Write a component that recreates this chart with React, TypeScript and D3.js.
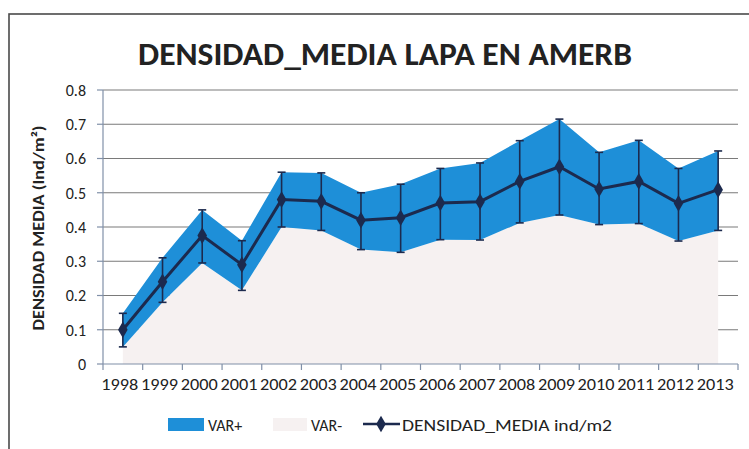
import React from 'react';
import * as d3 from 'd3';

const years = ['1998','1999','2000','2001','2002','2003','2004','2005','2006','2007','2008','2009','2010','2011','2012','2013'];
const media = [0.10,0.24,0.375,0.29,0.48,0.475,0.42,0.427,0.47,0.474,0.533,0.576,0.511,0.533,0.469,0.509];
const varMinus = [0.05,0.18,0.295,0.215,0.40,0.39,0.334,0.326,0.363,0.362,0.412,0.435,0.407,0.41,0.359,0.39];
const varPlus = [0.098,0.13,0.155,0.145,0.16,0.168,0.166,0.199,0.208,0.225,0.24,0.28,0.211,0.243,0.212,0.232];
const yTicks = [0,0.1,0.2,0.3,0.4,0.5,0.6,0.7,0.8];

const W = 749, H = 449;
const FONT = 'Carlito, Lato, "Open Sans", sans-serif';
const BLUE = '#1E8FD8';
const LIGHT = '#F6F1F1';
const NAVY = '#1C2A4E';

export default function App() {
  const x = d3.scaleBand<string>().domain(years).range([103, 738]);
  const y = d3.scaleLinear().domain([0, 0.8]).range([364, 90]);
  const cx = (yr: string) => (x(yr) as number) + x.bandwidth() / 2;

  const rows = years.map((yr, i) => ({ year: yr, varMinus: varMinus[i], varPlus: varPlus[i] }));
  const stacked = d3.stack<any>().keys(['varMinus', 'varPlus'])(rows);
  const area = d3.area<any>()
    .x((d) => cx(d.data.year))
    .y0((d) => y(d[0]))
    .y1((d) => y(d[1]));
  const line = d3.line<number>().x((_, i) => cx(years[i])).y((d) => y(d));

  const bounds = [103, ...years.map((yr) => (x(yr) as number) + x.bandwidth())];
  const diamond = d3.symbol().type(d3.symbolDiamond).size(80)() as string;

  return (
    <svg width={W} height={H} style={{ display: 'block', position: 'absolute', left: 0, top: 0 }} fontFamily={FONT}>
      <rect x={0} y={0} width={W} height={H} fill="#fff" />
      <rect x={9} y={14} width={800} height={500} fill="#fff" stroke="#4a4a4a" strokeWidth={1.6} />
      <text x={385} y={65} textAnchor="middle" fontSize={32} fontWeight="bold" fill="#222" textLength={494} lengthAdjust="spacingAndGlyphs">DENSIDAD_MEDIA LAPA EN AMERB</text>

      {yTicks.filter((t) => t > 0).map((t) => (
        <line key={'g' + t} x1={103} x2={738} y1={y(t)} y2={y(t)} stroke="#7a7a7a" strokeWidth={1.2} />
      ))}

      {stacked.map((s, i) => (
        <path key={s.key} d={area(s as any) as string} fill={i === 0 ? LIGHT : BLUE} />
      ))}

      {/* axes */}
      <line x1={103} x2={103} y1={90} y2={364} stroke="#8090a8" strokeWidth={1.2} />
      {yTicks.map((t) => (
        <g key={'yt' + t}>
          <line x1={97} x2={103} y1={y(t)} y2={y(t)} stroke="#8090a8" strokeWidth={1.2} />
          <text x={86} y={y(t)} dy="0.36em" textAnchor="end" fontSize={16} fill="#222">{t === 0 ? '0' : t.toFixed(1)}</text>
        </g>
      ))}
      <line x1={103} x2={738} y1={364} y2={364} stroke="#8090a8" strokeWidth={1.2} />
      {bounds.map((b, i) => (
        <line key={'xt' + i} x1={b} x2={b} y1={364} y2={370} stroke="#8090a8" strokeWidth={1.2} />
      ))}
      {years.map((yr) => (
        <text key={'xl' + yr} x={cx(yr) - 3} y={390} textAnchor="middle" fontSize={17} fill="#222" textLength={37} lengthAdjust="spacingAndGlyphs">{yr}</text>
      ))}
      <text transform="translate(44,228) rotate(-90)" textAnchor="middle" fontSize={16} fontWeight="bold" fill="#222" textLength={205} lengthAdjust="spacingAndGlyphs">DENSIDAD MEDIA (Ind/m²)</text>

      {/* error bars */}
      {years.map((yr, i) => {
        const xc = cx(yr);
        const lo = y(varMinus[i]);
        const hi = y(varMinus[i] + varPlus[i]);
        return (
          <g key={'e' + yr} stroke={NAVY} strokeWidth={1.6}>
            <line x1={xc} x2={xc} y1={lo} y2={hi} />
            <line x1={xc - 4} x2={xc + 4} y1={lo} y2={lo} />
            <line x1={xc - 4} x2={xc + 4} y1={hi} y2={hi} />
          </g>
        );
      })}
      <path d={line(media) as string} fill="none" stroke={NAVY} strokeWidth={3} />
      {media.map((v, i) => (
        <path key={'m' + i} d={diamond} transform={`translate(${cx(years[i])},${y(v)})`} fill={NAVY} />
      ))}

      {/* legend */}
      <rect x={168} y={418} width={36} height={13} fill={BLUE} />
      <text x={208} y={431} fontSize={16} fill="#222">VAR+</text>
      <rect x={273} y={418} width={34} height={13} fill={LIGHT} />
      <text x={311} y={431} fontSize={16} fill="#222">VAR-</text>
      <line x1={363} x2={400} y1={424} y2={424} stroke={NAVY} strokeWidth={2.5} />
      <path d={diamond} transform="translate(381,424)" fill={NAVY} />
      <text x={402} y={431} fontSize={16} fill="#222" textLength={210} lengthAdjust="spacingAndGlyphs">DENSIDAD_MEDIA ind/m2</text>
    </svg>
  );
}
